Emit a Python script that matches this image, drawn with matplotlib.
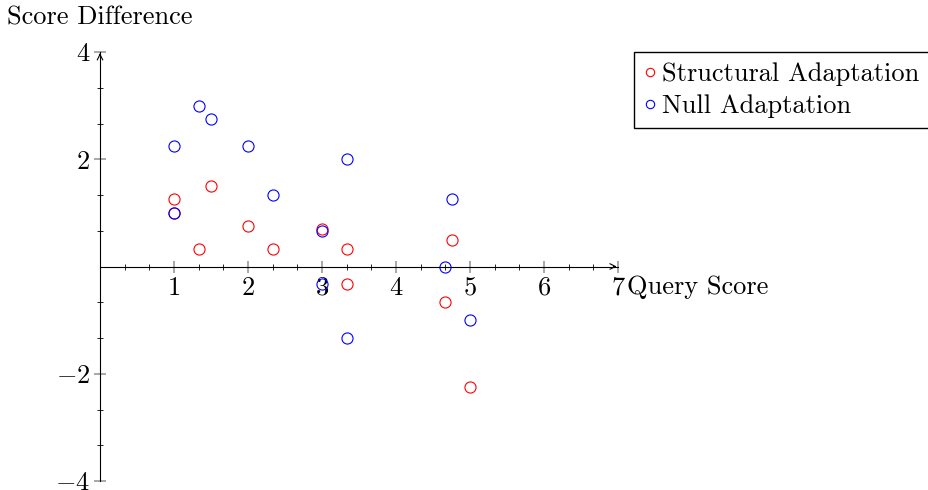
import numpy as np
import matplotlib
matplotlib.use("Agg")
import matplotlib.pyplot as plt

plt.rcParams['font.family'] = 'serif'
plt.rcParams['font.serif'] = ['cmr10']
plt.rcParams['mathtext.fontset'] = 'cm'
plt.rcParams['axes.formatter.use_mathtext'] = True

# Daten
struct_x = [1, 1.5, 4/3, 2, 7/3, 3, 10/3, 4.75, 10/3, 14/3, 5, 1]
struct_y = [1.25, 1.5, 0.33, 0.75, 0.33, 0.69, 0.33, 0.5, -0.33, -0.67, -2.25, 1]

null_x = [1, 4/3, 1.5, 2, 7/3, 3, 10/3, 4.75, 14/3, 1, 3, 10/3, 5]
null_y = [2.25, 3, 2.75, 2.25, 1.33, 0.66, 2, 1.25, 0, 1, -0.32, -1.33, -1]

x_ticks = [1, 2, 3, 4, 5, 6, 7]
y_ticks = [-4, -2, 2, 4]

fs = 19

fig = plt.figure(figsize=(9.29, 4.9), dpi=100)
ax = fig.add_axes([100/929, 1 - 481/490, 518/929, 429/490])

ax.plot(struct_x, struct_y, 'o', mfc='none', mec='red', ms=8, mew=0.8,
        label='Structural Adaptation')
ax.plot(null_x, null_y, 'o', mfc='none', mec='blue', ms=8, mew=0.8,
        label='Null Adaptation')

ax.set_xlim(0, 7)
ax.set_ylim(-4, 4)

# Achsen durch den Ursprung
ax.spines['left'].set_position(('data', 0))
ax.spines['bottom'].set_position(('data', 0))
ax.spines['top'].set_visible(False)
ax.spines['right'].set_visible(False)
for s in ('left', 'bottom'):
    ax.spines[s].set_linewidth(0.8)

ax.set_xticks(x_ticks)
ax.set_yticks(y_ticks)
ax.set_xticks(np.arange(1, 21) / 3, minor=True)
ax.set_yticks([-10/3, -8/3, -4/3, -2/3, 2/3, 4/3, 8/3, 10/3], minor=True)
ax.tick_params(which='major', direction='inout', length=8, width=1.2,
               color='#999999', labelsize=fs, pad=3)
ax.tick_params(which='minor', direction='inout', length=5, width=0.6,
               color='black')

# Pfeilspitzen
ax.annotate('', xy=(7.02, 0), xytext=(6.9, 0),
            arrowprops=dict(arrowstyle='->', lw=0.8, color='black'),
            annotation_clip=False)
ax.annotate('', xy=(0, 4.03), xytext=(0, 3.9),
            arrowprops=dict(arrowstyle='->', lw=0.8, color='black'),
            annotation_clip=False)

fig.text(627/929, 1 - 287/490, 'Query Score', fontsize=fs, va='center', ha='left')
fig.text(7/929, 1 - 18/490, 'Score Difference', fontsize=fs, va='center', ha='left')

leg = ax.legend(loc='upper left', bbox_to_anchor=(634/929, 1 - 52/490),
                bbox_transform=fig.transFigure, fontsize=fs, markerscale=0.75,
                handlelength=0.45, handletextpad=0.2, borderpad=0.4,
                labelspacing=0.3, fancybox=False, framealpha=1,
                borderaxespad=0)
leg.get_frame().set_edgecolor('black')
leg.get_frame().set_linewidth(1)

fig.savefig('out.png', dpi=100)
